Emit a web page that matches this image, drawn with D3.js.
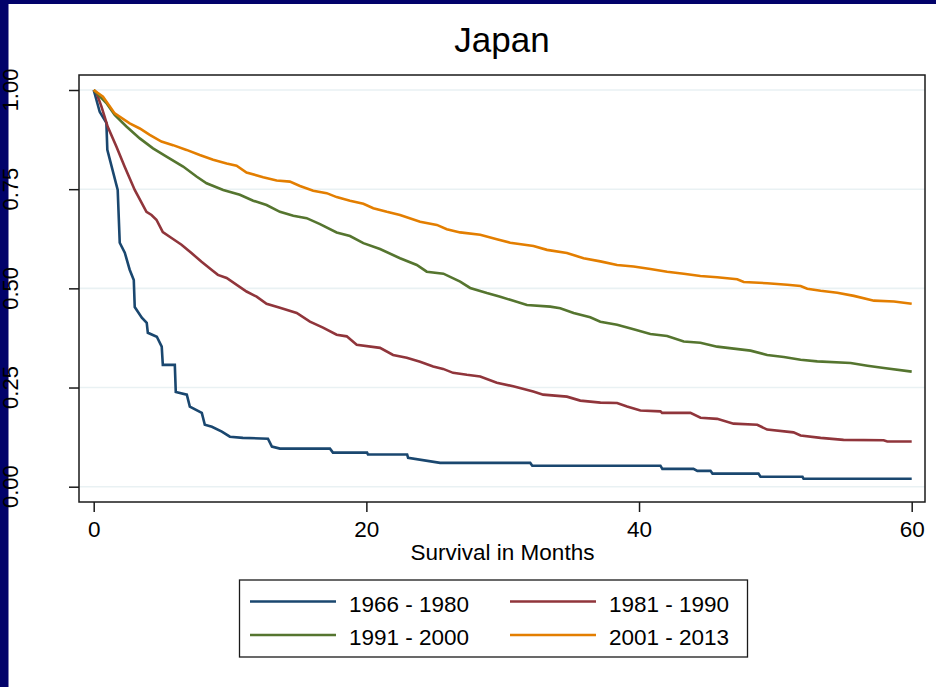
<!DOCTYPE html>
<html>
<head>
<meta charset="utf-8">
<script src="https://cdn.jsdelivr.net/npm/d3@7"></script>
<style>
  html, body { margin: 0; padding: 0; background: #ffffff; }
  svg { display: block; }
  text { font-family: "Liberation Sans", Arial, Helvetica, sans-serif; fill: #000; }
</style>
</head>
<body>
<script>
// Kaplan-Meier survival estimates, Japan, by period of diagnosis
const cohorts = ["1966 - 1980", "1981 - 1990", "1991 - 2000", "2001 - 2013"];
const cohortColors = ["#1a476f", "#90353b", "#55752f", "#e37e00"];

const months1966 = [0, 0.44, 0.93, 1.0, 1.76, 1.91, 2.28, 2.64, 2.94, 3.01, 3.53, 3.89, 3.97, 4.63, 4.99, 5.07, 5.95, 6.02, 6.83, 7.05, 7.93, 8.15, 8.67, 9.4, 9.99, 10.94, 12.78, 13.07, 13.66, 17.33, 17.55, 20.05, 20.12, 22.99, 23.06, 25.41, 32.02, 32.17, 41.57, 41.71, 43.99, 44.28, 45.24, 45.39, 48.76, 48.91, 51.99, 52.07, 60];
const surv1966 = [1.0, 0.945, 0.917, 0.849, 0.748, 0.615, 0.59, 0.547, 0.521, 0.453, 0.426, 0.413, 0.388, 0.378, 0.353, 0.307, 0.307, 0.239, 0.232, 0.202, 0.186, 0.156, 0.151, 0.139, 0.126, 0.123, 0.121, 0.101, 0.096, 0.096, 0.086, 0.086, 0.081, 0.081, 0.073, 0.06, 0.06, 0.053, 0.053, 0.045, 0.045, 0.04, 0.04, 0.033, 0.033, 0.025, 0.025, 0.02, 0.02];

const months1981 = [0, 0.2, 0.57, 1.03, 1.67, 2.28, 3.01, 3.87, 4.24, 4.6, 5.07, 5.71, 6.44, 7.17, 7.91, 8.64, 9.11, 9.75, 11.21, 11.95, 12.68, 13.66, 14.89, 15.86, 16.82, 17.82, 18.56, 19.29, 21.0, 21.96, 22.96, 23.94, 24.9, 25.63, 26.36, 27.37, 28.35, 29.57, 30.77, 32.24, 32.97, 34.71, 35.69, 37.17, 38.39, 39.12, 40.1, 41.57, 41.69, 43.77, 44.51, 45.73, 46.93, 48.67, 49.4, 51.33, 51.85, 53.32, 55.0, 57.94, 58.21, 60];
const surv1981 = [1.0, 0.993, 0.958, 0.907, 0.857, 0.806, 0.748, 0.693, 0.685, 0.673, 0.642, 0.627, 0.61, 0.589, 0.567, 0.547, 0.534, 0.526, 0.492, 0.479, 0.461, 0.451, 0.438, 0.416, 0.401, 0.383, 0.379, 0.358, 0.35, 0.332, 0.325, 0.315, 0.303, 0.297, 0.287, 0.282, 0.278, 0.262, 0.253, 0.24, 0.232, 0.227, 0.217, 0.212, 0.211, 0.202, 0.192, 0.19, 0.186, 0.186, 0.174, 0.171, 0.159, 0.156, 0.144, 0.137, 0.129, 0.123, 0.118, 0.117, 0.114, 0.114];

const months1991 = [0, 0.93, 1.54, 2.4, 3.38, 4.35, 5.34, 6.56, 7.54, 8.28, 9.5, 10.72, 11.7, 12.68, 13.66, 14.64, 15.62, 16.6, 17.82, 18.8, 19.78, 21.0, 22.47, 23.7, 24.43, 25.65, 26.88, 27.61, 28.84, 29.82, 30.55, 31.78, 33.49, 34.22, 35.2, 36.42, 37.16, 38.39, 39.6, 40.83, 42.06, 43.28, 44.5, 45.73, 46.95, 48.18, 49.4, 50.62, 51.85, 53.07, 55.52, 56.75, 57.96, 60];
const surv1991 = [1.0, 0.967, 0.937, 0.908, 0.878, 0.853, 0.832, 0.807, 0.782, 0.765, 0.748, 0.736, 0.721, 0.71, 0.693, 0.683, 0.677, 0.662, 0.641, 0.632, 0.614, 0.599, 0.576, 0.559, 0.542, 0.537, 0.517, 0.501, 0.488, 0.479, 0.471, 0.458, 0.454, 0.45, 0.438, 0.427, 0.416, 0.408, 0.397, 0.385, 0.38, 0.366, 0.363, 0.353, 0.348, 0.343, 0.332, 0.327, 0.32, 0.316, 0.312, 0.305, 0.299, 0.29];

const months2001 = [0, 0.68, 1.54, 2.64, 3.38, 4.11, 4.97, 5.82, 6.81, 7.78, 8.76, 9.75, 10.48, 11.21, 12.43, 13.42, 14.39, 15.13, 16.1, 17.09, 17.82, 18.8, 19.78, 20.51, 21.5, 22.47, 23.94, 25.17, 25.9, 26.88, 28.35, 29.57, 30.55, 32.26, 33.25, 34.71, 35.93, 37.16, 38.39, 39.6, 40.83, 42.06, 43.28, 44.5, 45.73, 47.2, 47.68, 49.4, 50.87, 51.85, 52.34, 53.32, 54.54, 55.76, 57.23, 58.7, 60];
const surv2001 = [1.0, 0.983, 0.941, 0.916, 0.903, 0.887, 0.87, 0.861, 0.849, 0.836, 0.824, 0.815, 0.809, 0.792, 0.78, 0.772, 0.769, 0.758, 0.746, 0.74, 0.73, 0.721, 0.713, 0.702, 0.693, 0.685, 0.668, 0.66, 0.649, 0.641, 0.635, 0.624, 0.615, 0.607, 0.597, 0.589, 0.576, 0.568, 0.559, 0.555, 0.549, 0.542, 0.537, 0.531, 0.528, 0.523, 0.516, 0.513, 0.509, 0.506, 0.499, 0.494, 0.489, 0.481, 0.469, 0.467, 0.461];

const xTicks = [0, 20, 40, 60];
const yTicks = [0, 0.25, 0.5, 0.75, 1];
const yTickLabels = ["0.00", "0.25", "0.50", "0.75", "1.00"];

const seriesMonths = [months1966, months1981, months1991, months2001];
const seriesSurv = [surv1966, surv1981, surv1991, surv2001];

const W = 936, H = 687;
const frame = { left: 79, top: 75, right: 925, bottom: 502 };

const svg = d3.select("body").append("svg")
  .attr("width", W).attr("height", H);

svg.append("rect").attr("width", W).attr("height", H).attr("fill", "#ffffff");

// dark outer border on the left and top edges
svg.append("rect").attr("x", 0).attr("y", 0).attr("width", 8.5).attr("height", H).attr("fill", "#02026a");
svg.append("rect").attr("x", 0).attr("y", 0).attr("width", W).attr("height", 4).attr("fill", "#02026a");

const x = d3.scaleLinear().domain([0, 60]).range([93.7, 911.7]);
const y = d3.scaleLinear().domain([0, 1]).range([486.7, 90]);

// title
svg.append("text")
  .attr("x", (frame.left + frame.right) / 2).attr("y", 52)
  .attr("text-anchor", "middle")
  .style("font-size", "35px")
  .text("Japan");

// horizontal grid lines
svg.append("g").selectAll("line").data(yTicks).join("line")
  .attr("x1", frame.left).attr("x2", frame.right)
  .attr("y1", d => y(d)).attr("y2", d => y(d))
  .attr("stroke", "#e9f1f3").attr("stroke-width", 1.6);

// survival curves
const line = d3.line()
  .x(d => x(d[0]))
  .y(d => y(d[1]))
  .curve(d3.curveLinear);

const curves = svg.append("g");
seriesMonths.forEach((ms, i) => {
  const pts = ms.map((m, j) => [m, seriesSurv[i][j]]);
  curves.append("path")
    .datum(pts)
    .attr("d", line)
    .attr("fill", "none")
    .attr("stroke", cohortColors[i])
    .attr("stroke-width", 2.6)
    .attr("stroke-linejoin", "miter");
});

// plot frame
svg.append("rect")
  .attr("x", frame.left).attr("y", frame.top)
  .attr("width", frame.right - frame.left).attr("height", frame.bottom - frame.top)
  .attr("fill", "none").attr("stroke", "#1a1a1a").attr("stroke-width", 1.5);

// y axis
const yAxis = d3.axisLeft(y).tickValues(yTicks).tickSize(10).tickFormat("");
const gy = svg.append("g").attr("transform", `translate(${frame.left},0)`).call(yAxis);
gy.select(".domain").remove();
gy.selectAll(".tick line").attr("stroke", "#1a1a1a").attr("stroke-width", 1.5);

svg.append("g").selectAll("text").data(yTicks).join("text")
  .attr("transform", (d) => `translate(17.5,${y(d)}) rotate(-90)`)
  .attr("text-anchor", "middle")
  .style("font-size", "22px")
  .text((d, i) => yTickLabels[i]);

// x axis
const xAxis = d3.axisBottom(x).tickValues(xTicks).tickSize(10).tickFormat(d3.format("d")).tickPadding(6);
const gx = svg.append("g").attr("transform", `translate(0,${frame.bottom})`).call(xAxis);
gx.select(".domain").remove();
gx.selectAll(".tick line").attr("stroke", "#1a1a1a").attr("stroke-width", 1.5);
gx.selectAll(".tick text")
  .attr("y", 35).attr("dy", null)
  .style("font-size", "22.5px")
  .style("font-family", "'Liberation Sans', Arial, sans-serif")
  .attr("fill", "#000");

svg.append("text")
  .attr("x", 502.5).attr("y", 560)
  .attr("text-anchor", "middle")
  .style("font-size", "22.5px")
  .text("Survival in Months");

// legend
const legend = svg.append("g");
legend.append("rect")
  .attr("x", 239.5).attr("y", 580).attr("width", 508).attr("height", 77)
  .attr("fill", "#ffffff").attr("stroke", "#1a1a1a").attr("stroke-width", 1.3);

const colX = [250, 510];
const rowY = [601.5, 635];
cohorts.forEach((name, i) => {
  const cx = colX[i % 2], cy = rowY[Math.floor(i / 2)];
  legend.append("line")
    .attr("x1", cx).attr("x2", cx + 86)
    .attr("y1", cy).attr("y2", cy)
    .attr("stroke", cohortColors[i]).attr("stroke-width", 2.6);
  legend.append("text")
    .attr("x", cx + 99).attr("y", cy + 10)
    .style("font-size", "22.5px")
    .text(name);
});
</script>
</body>
</html>
